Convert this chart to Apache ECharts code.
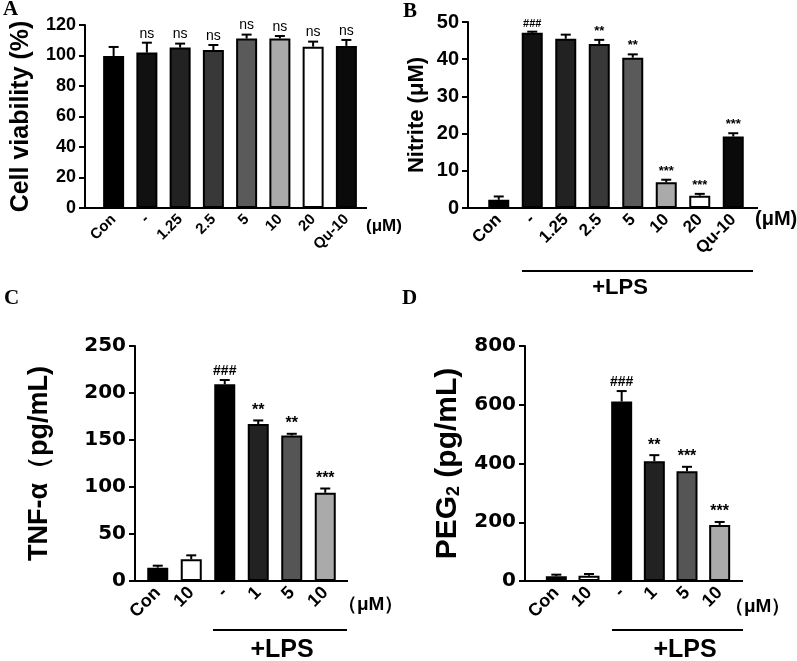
<!DOCTYPE html>
<html>
<head>
<meta charset="utf-8">
<script src="https://cdn.jsdelivr.net/npm/echarts@6/dist/echarts.min.js"></script>
<style>
html, body { margin: 0; padding: 0; background: #fff; }
#main { width: 797px; height: 661px; }
</style>
</head>
<body>
<div id="main"></div>
<script>
// panel A - cell viability
var catsA = ['Con', '-', '1.25', '2.5', '5', '10', '20', 'Qu-10'];
var viability = [99.7, 101.9, 105.2, 103.6, 111.1, 111.1, 105.8, 106.3];
var viabilityErr = [5.9, 6.5, 2.6, 3.3, 2.6, 1.7, 3.3, 3.9];
var marksA = ['', 'ns', 'ns', 'ns', 'ns', 'ns', 'ns', 'ns'];
var ticksA = [0, 120, 20];

// panel B - nitrite
var catsB = ['Con', '-', '1.25', '2.5', '5', '10', '20', 'Qu-10'];
var nitrite = [2.2, 47.1, 45.5, 44.1, 40.4, 6.9, 3.3, 19.2];
var nitriteErr = [0.9, 0.3, 1.1, 1.1, 0.9, 0.7, 0.5, 0.9];
var marksB = ['', '###', '', '**', '**', '***', '***', '***'];
var ticksB = [0, 50, 10];

// panel C - TNF-a
var catsC = ['Con', '10', '-', '1', '5', '10'];
var tnf = [14.2, 23.1, 209.2, 166.9, 154.8, 93.8];
var tnfErr = [2.1, 4.2, 4.6, 3.9, 1.8, 4.6];
var marksC = ['', '', '###', '**', '**', '***'];
var ticksC = [0, 250, 50];

// panel D - PEG2
var catsD = ['Con', '10', '-', '1', '5', '10'];
var peg = [16, 18, 611, 408, 374, 191];
var pegErr = [5.6, 5.9, 35.6, 20.4, 14.7, 10];
var marksD = ['', '', '###', '**', '***', '***'];
var ticksD = [0, 800, 200];

var colorsA = ['#000', '#111', '#222', '#383838', '#5a5a5a', '#aaa', '#fff', '#0a0a0a'];
var colorsC = ['#000', '#fff', '#000', '#222', '#555', '#aaa'];

var SANS = '"Liberation Sans", Arial, sans-serif';
var WIDE = '"DejaVu Sans", Verdana, sans-serif';
var SERIF = '"Liberation Serif", "Times New Roman", serif';

// layout of each panel: grid box, where the y axis sits, where the x axis line ends
var panels = [
  { left: 97, top: 25, width: 266, height: 183, yAxisX: 85, xEnd: 367,
    cats: catsA, vals: viability, errs: viabilityErr, marks: marksA, ticks: ticksA, colors: colorsA,
    name: 'Cell viability (%)', nameSize: 25, nameGap: 51,
    tickFont: SANS, tickSize: 18, xSize: 15, markSize: 14, markWeight: 'normal' },
  { left: 482, top: 22, width: 268, height: 186, yAxisX: 468, xEnd: 758,
    cats: catsB, vals: nitrite, errs: nitriteErr, marks: marksB, ticks: ticksB, colors: colorsA,
    name: 'Nitrite (μM)', nameSize: 22, nameGap: 40,
    tickFont: SANS, tickSize: 20, xSize: 17, markSize: 13, markWeight: 'bold' },
  { left: 141, top: 346, width: 201, height: 235, yAxisX: 135, xEnd: 348,
    cats: catsC, vals: tnf, errs: tnfErr, marks: marksC, ticks: ticksC, colors: colorsC,
    name: 'TNF-α（pg/mL)', nameSize: 27, nameGap: 82,
    tickFont: WIDE, tickSize: 20, xSize: 18, markSize: 16, markWeight: 'bold' },
  { left: 540, top: 346, width: 196, height: 235, yAxisX: 525, xEnd: 743,
    cats: catsD, vals: peg, errs: pegErr, marks: marksD, ticks: ticksD, colors: colorsC,
    name: '{a|PEG}{s|2}{a| (pg/mL)}', nameSize: 30, nameGap: 62,
    tickFont: WIDE, tickSize: 20, xSize: 18, markSize: 16, markWeight: 'bold' }
];

var grids = [], xAxes = [], yAxes = [], series = [], graphics = [];

panels.forEach(function (p, k) {
  grids.push({ left: p.left, top: p.top, width: p.width, height: p.height, containLabel: false });
  xAxes.push({
    type: 'category', gridIndex: k, data: p.cats,
    axisLine: { lineStyle: { color: '#000', width: 2 } },
    axisTick: { alignWithLabel: true, length: 6, lineStyle: { color: '#000', width: 2 } },
    axisLabel: { rotate: 45, margin: 9, color: '#000', fontFamily: SANS, fontWeight: 'bold', fontSize: p.xSize, interval: 0 },
    splitLine: { show: false }
  });
  var nameStyle = { color: '#000', fontFamily: SANS, fontWeight: 'bold', fontSize: p.nameSize };
  if (k === 3) {
    nameStyle.rich = {
      a: { fontFamily: SANS, fontWeight: 'bold', fontSize: p.nameSize, color: '#000' },
      s: { fontFamily: SANS, fontWeight: 'bold', fontSize: 18, color: '#000', verticalAlign: 'bottom', padding: [10, 0, 0, 0] }
    };
  }
  yAxes.push({
    type: 'value', gridIndex: k, min: p.ticks[0], max: p.ticks[1], interval: p.ticks[2],
    offset: p.left - p.yAxisX,
    name: p.name, nameLocation: 'middle', nameGap: p.nameGap, nameTextStyle: nameStyle,
    axisLine: { show: true, lineStyle: { color: '#000', width: 2 } },
    axisTick: { show: true, length: 6, lineStyle: { color: '#000', width: 2 } },
    axisLabel: { margin: 9, color: '#000', fontFamily: p.tickFont, fontWeight: 'bold', fontSize: p.tickSize },
    splitLine: { show: false }
  });
  series.push({
    type: 'bar', xAxisIndex: k, yAxisIndex: k, barWidth: 21,
    itemStyle: { borderColor: '#000', borderWidth: 2 },
    data: p.vals.map(function (v, j) { return { value: v, itemStyle: { color: p.colors[j] } }; })
  });
  series.push({
    type: 'custom', xAxisIndex: k, yAxisIndex: k, z: 5,
    data: p.vals.map(function (v, j) { return [j, v, p.errs[j]]; }),
    renderItem: function (params, api) {
      var i = api.value(0), v = api.value(1), e = api.value(2);
      var a = api.coord([i, v]), b = api.coord([i, v + e]);
      var kids = [
        { type: 'line', shape: { x1: a[0], y1: a[1], x2: b[0], y2: b[1] }, style: { stroke: '#000', lineWidth: 2 } },
        { type: 'line', shape: { x1: b[0] - 5, y1: b[1], x2: b[0] + 5, y2: b[1] }, style: { stroke: '#000', lineWidth: 2 } }
      ];
      var m = p.marks[params.dataIndex];
      if (m) {
        kids.push({ type: 'text', x: b[0], y: b[1] - 2,
          style: { text: m, fill: '#000', align: 'center', verticalAlign: 'bottom',
                   font: p.markWeight + ' ' + (m.charAt(0) === '#' ? p.markSize - 2 : p.markSize) + 'px ' + SANS } });
      }
      return { type: 'group', children: kids };
    }
  });
  // the x axis line runs on past the first and last band
  var yb = p.top + p.height;
  graphics.push({ type: 'line', shape: { x1: p.yAxisX, y1: yb, x2: p.left, y2: yb }, style: { stroke: '#000', lineWidth: 2 } });
  graphics.push({ type: 'line', shape: { x1: p.left + p.width, y1: yb, x2: p.xEnd, y2: yb }, style: { stroke: '#000', lineWidth: 2 } });
});

function txt(x, y, s, font, align) {
  return { type: 'text', x: x, y: y, style: { text: s, fill: '#000', font: font, align: align || 'left', verticalAlign: 'middle' } };
}

// panel letters
graphics.push(txt(3, 10, 'A', 'bold 21px ' + SERIF));
graphics.push(txt(403, 12, 'B', 'bold 21px ' + SERIF));
graphics.push(txt(4, 299, 'C', 'bold 21px ' + SERIF));
graphics.push(txt(402, 299, 'D', 'bold 21px ' + SERIF));

// unit labels
graphics.push(txt(366, 226, '(μM)', 'bold 17px ' + SANS));
graphics.push(txt(755, 219, '(μM)', 'bold 20px ' + SANS));
graphics.push(txt(338, 605, '（μM）', 'bold 19px ' + SANS));
graphics.push(txt(725, 607, '（μM）', 'bold 19px ' + SANS));

// +LPS brackets
[[522, 753, 271, 620, 288, 22], [213, 347, 630, 282, 650, 25], [612, 743, 630, 685, 650, 25]].forEach(function (b) {
  graphics.push({ type: 'line', shape: { x1: b[0], y1: b[2], x2: b[1], y2: b[2] }, style: { stroke: '#000', lineWidth: 2 } });
  graphics.push(txt(b[3], b[4], '+LPS', 'bold ' + b[5] + 'px ' + SANS, 'center'));
});

var myChart = echarts.init(document.getElementById('main'));
myChart.setOption({
  backgroundColor: '#fff',
  animation: false,
  grid: grids,
  xAxis: xAxes,
  yAxis: yAxes,
  series: series,
  graphic: graphics
});
</script>
</body>
</html>
